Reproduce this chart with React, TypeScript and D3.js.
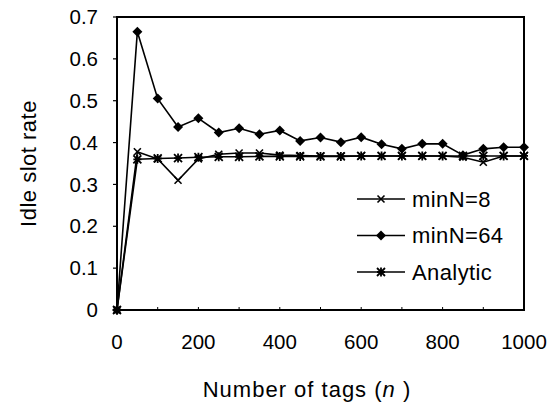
import * as d3 from "d3";

// tag counts (n)
const tags = [0, 50, 100, 150, 200, 250, 300, 350, 400, 450, 500, 550, 600, 650, 700, 750, 800, 850, 900, 950, 1000];

// idle slot rates
const minN8 = [0, 0.378, 0.361, 0.31, 0.361, 0.372, 0.375, 0.375, 0.37, 0.369, 0.368, 0.368, 0.368, 0.368, 0.368, 0.368, 0.368, 0.365, 0.353, 0.368, 0.368];
const minN64 = [0, 0.665, 0.505, 0.437, 0.458, 0.424, 0.434, 0.42, 0.429, 0.404, 0.412, 0.401, 0.413, 0.396, 0.385, 0.397, 0.397, 0.37, 0.385, 0.389, 0.389];
const analytic = [0, 0.36, 0.362, 0.363, 0.365, 0.366, 0.366, 0.367, 0.367, 0.367, 0.367, 0.367, 0.368, 0.368, 0.368, 0.368, 0.368, 0.368, 0.368, 0.368, 0.368];

const xTicks = [0, 200, 400, 600, 800, 1000];
const yTicks = [0, 0.1, 0.2, 0.3, 0.4, 0.5, 0.6, 0.7];

const series = [
  { name: "minN=8", values: minN8, marker: "x" },
  { name: "minN=64", values: minN64, marker: "diamond" },
  { name: "Analytic", values: analytic, marker: "star" },
];

const W = 559;
const H = 410;
const m = { left: 117, right: 524, top: 17, bottom: 310 };
const font = "'Liberation Sans', Arial, sans-serif";

const Marker = ({ type, x, y }: { type: string; x: number; y: number }) => {
  if (type === "diamond") {
    const s = 5;
    return <path d={`M${x},${y - s}L${x + s},${y}L${x},${y + s}L${x - s},${y}Z`} fill="#000" />;
  }
  if (type === "x") {
    const s = 3.5;
    return (
      <path
        d={`M${x - s},${y - s}L${x + s},${y + s}M${x - s},${y + s}L${x + s},${y - s}`}
        stroke="#000"
        strokeWidth={1.6}
      />
    );
  }
  const s = 4;
  return (
    <path
      d={`M${x - s},${y - s}L${x + s},${y + s}M${x - s},${y + s}L${x + s},${y - s}M${x},${y - s - 0.5}L${x},${y + s + 0.5}M${x - s},${y}L${x + s},${y}`}
      stroke="#000"
      strokeWidth={1.8}
    />
  );
};

export default function App() {
  const x = d3.scaleLinear().domain([0, 1000]).range([m.left, m.right]);
  const y = d3.scaleLinear().domain([0, 0.7]).range([m.bottom, m.top]);
  const line = d3
    .line<number>()
    .x((_, i) => x(tags[i]))
    .y((v) => y(v));

  return (
    <svg width={W} height={H} style={{ display: "block", position: "absolute", left: 0, top: 0 }} fontFamily={font}>
      <rect width={W} height={H} fill="#fff" />

      {/* frame */}
      <rect
        x={m.left}
        y={m.top}
        width={m.right - m.left}
        height={m.bottom - m.top}
        fill="none"
        stroke="#000"
        strokeWidth={2}
      />

      {/* y ticks */}
      {yTicks.map((t) => (
        <g key={t}>
          <line x1={m.left - 4} x2={m.left} y1={y(t)} y2={y(t)} stroke="#000" strokeWidth={1.2} />
          <text x={98} y={y(t)} dy="0.35em" textAnchor="end" fontSize={20.5}>
            {t === 0 ? "0" : t.toFixed(1)}
          </text>
        </g>
      ))}

      {/* x ticks */}
      {d3.range(0, 1001, 100).map((t) => (
        <line key={t} x1={x(t)} x2={x(t)} y1={m.bottom} y2={m.bottom - 3} stroke="#000" strokeWidth={1} />
      ))}
      {xTicks.map((t) => (
        <text key={t} x={x(t)} y={342} dy="0.35em" textAnchor="middle" fontSize={20.5}>
          {t}
        </text>
      ))}

      {/* series */}
      {series.map((s) => (
        <g key={s.name}>
          <path d={line(s.values) ?? ""} fill="none" stroke="#000" strokeWidth={1.6} />
          {s.values.map((v, i) => (
            <Marker key={i} type={s.marker} x={x(tags[i])} y={y(v)} />
          ))}
        </g>
      ))}

      {/* legend */}
      {series.map((s, i) => {
        const ly = 199 + i * 36.5;
        return (
          <g key={s.name}>
            <line x1={357} x2={405} y1={ly} y2={ly} stroke="#000" strokeWidth={1.6} />
            <Marker type={s.marker} x={381} y={ly} />
            <text x={412} y={ly} dy="0.35em" fontSize={22} letterSpacing={0.4}>
              {s.name}
            </text>
          </g>
        );
      })}

      {/* axis titles */}
      <text x={307} y={389} dy="0.35em" textAnchor="middle" fontSize={22} letterSpacing={1}>
        Number of tags (<tspan fontStyle="italic">n</tspan> )
      </text>
      <text
        transform={`translate(28,${(m.top + m.bottom) / 2}) rotate(-90)`}
        dy="0.35em"
        textAnchor="middle"
        fontSize={22}
        letterSpacing={0.5}
      >
        Idle slot rate
      </text>
    </svg>
  );
}
